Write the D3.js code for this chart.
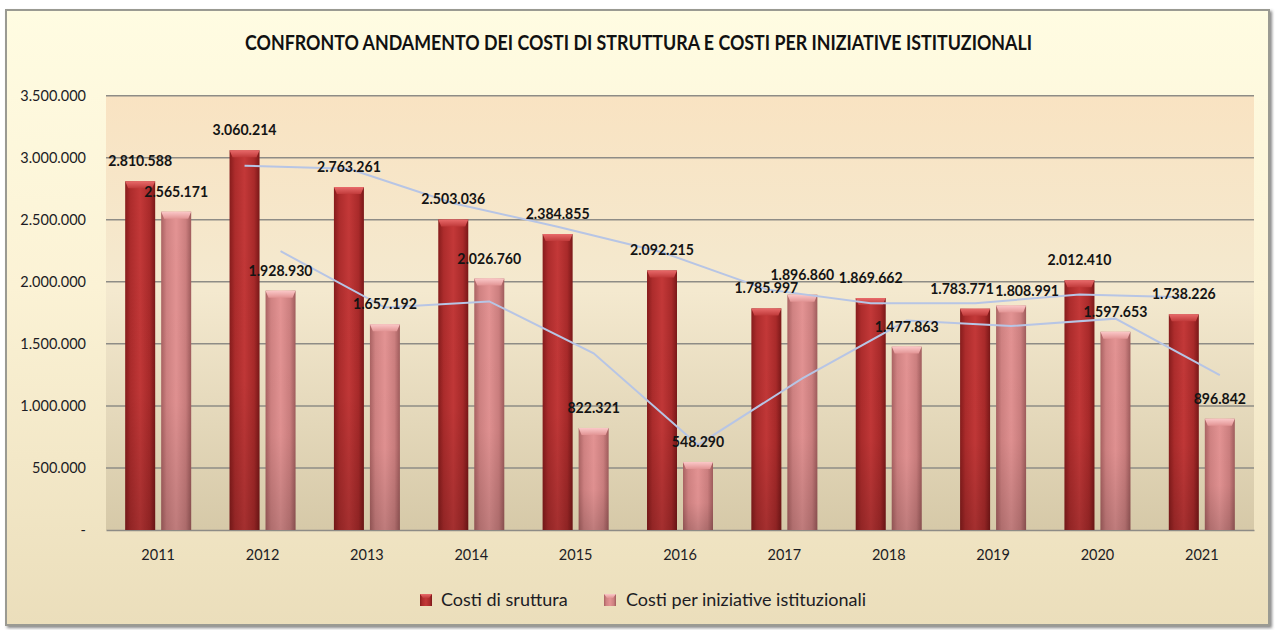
<!DOCTYPE html>
<html><head><meta charset="utf-8">
<script src="https://cdn.jsdelivr.net/npm/d3@7"></script>
<style>
html,body{margin:0;padding:0;background:#fff;}
svg{display:block;}
</style></head>
<body>
<svg id="chart" width="1276" height="630"></svg>
<script>
const years = ["2011","2012","2013","2014","2015","2016","2017","2018","2019","2020","2021"];
const costiStruttura = [2810588,3060214,2763261,2503036,2384855,2092215,1785997,1869662,1783771,2012410,1738226];
const costiIniziative = [2565171,1928930,1657192,2026760,822321,548290,1896860,1477863,1808991,1597653,896842];
// trend lines (moving average, 2 periods), from 2012 on
const trendYears = ["2012","2013","2014","2015","2016","2017","2018","2019","2020","2021"];
const trendStruttura = [2935401,2911738,2633149,2443946,2238535,1939106,1827830,1826717,1898091,1875318];
const trendIniziative = [2247051,1793061,1841976,1424541,685306,1222575,1687362,1643427,1703322,1247248];
const yTicks = [0,500000,1000000,1500000,2000000,2500000,3000000,3500000];
const titleText = "CONFRONTO ANDAMENTO DEI COSTI DI STRUTTURA  E COSTI PER INIZIATIVE ISTITUZIONALI";
const legendLabels = ["Costi di sruttura","Costi per iniziative istituzionali"];

const svg = d3.select("#chart");
const defs = svg.append("defs");
const locale = d3.formatLocale({decimal:",", thousands:".", grouping:[3], currency:["€",""]});
const fmt = locale.format(",.0f");
const FONT = "Lato, 'Liberation Sans', sans-serif";

function lin(id, x1,y1,x2,y2, stops){
  const g = defs.append("linearGradient").attr("id",id)
    .attr("x1",x1).attr("y1",y1).attr("x2",x2).attr("y2",y2);
  stops.forEach(s=>g.append("stop").attr("offset",s[0]).attr("stop-color",s[1]).attr("stop-opacity", s[2]===undefined?1:s[2]));
}
lin("bgOuter",0,0,0,1,[[0,"#fffce2"],[0.45,"#fbf2d5"],[1,"#ebdebb"]]);
lin("bgPlot",0,0,0,1,[[0,"#f9e3c2"],[0.45,"#f4e9cf"],[1,"#d6c9a8"]]);
lin("gDark",0,0,1,0,[[0,"#861c1c"],[0.18,"#ad2c2c"],[0.5,"#c33838"],[0.82,"#a92a2a"],[1,"#7a1818"]]);
lin("gPink",0,0,1,0,[[0,"#a96262"],[0.18,"#d08282"],[0.5,"#e39393"],[0.82,"#cc7f7f"],[1,"#9f5c5c"]]);
lin("gShade",0,0,0,1,[[0,"#000",0],[0.6,"#000",0.02],[1,"#000",0.16]]);
lin("gCapDark",0,0,0,1,[[0,"#e86a6a"],[1,"#c03a3a"]]);
lin("gCapPink",0,0,0,1,[[0,"#fbc8c8"],[1,"#e29494"]]);
const f = defs.append("filter").attr("id","shadow").attr("x","-2%").attr("y","-2%").attr("width","104%").attr("height","106%");
f.append("feDropShadow").attr("dx",2).attr("dy",2).attr("stdDeviation",1.5).attr("flood-color","#555").attr("flood-opacity",0.7);

// frame
svg.append("rect").attr("x",6).attr("y",10).attr("width",1263).attr("height",615)
  .attr("fill","url(#bgOuter)").attr("stroke","#9a9a92").attr("stroke-width",2).attr("filter","url(#shadow)");

const plot = {left:106, right:1254, top:95.7, bottom:530};
const x = d3.scaleBand().domain(years).range([plot.left, plot.right]).padding(0);
const y = d3.scaleLinear().domain([0,3500000]).range([plot.bottom, plot.top]);

svg.append("rect").attr("x",plot.left).attr("y",plot.top).attr("width",plot.right-plot.left)
  .attr("height",plot.bottom-plot.top).attr("fill","url(#bgPlot)");

// gridlines
svg.append("g").selectAll("line").data(yTicks.filter(d=>d>0)).join("line")
  .attr("x1",plot.left).attr("x2",plot.right).attr("y1",d=>y(d)).attr("y2",d=>y(d))
  .attr("stroke","#8e8c86").attr("stroke-width",1.5);

// y axis
const yAxis = d3.axisLeft(y).tickValues(yTicks).tickSize(0).tickPadding(20)
  .tickFormat(d=> d===0 ? "-" : fmt(d));
const gy = svg.append("g").attr("transform",`translate(${plot.left},0)`).call(yAxis);
gy.select(".domain").remove();
gy.selectAll("text").attr("font-family",FONT).attr("font-size",14.5).attr("fill","#1c1c24");

// x axis
const xAxis = d3.axisBottom(x).tickSize(0).tickPadding(20);
const gx = svg.append("g").attr("transform",`translate(0,${plot.bottom})`).call(xAxis);
gx.select(".domain").attr("stroke","#8e8c86").attr("stroke-width",1.5);
gx.selectAll("text").attr("font-family",FONT).attr("font-size",14.5).attr("fill","#1c1c24");

const bw = 30, off = 18;
function drawBars(vals, fill, cap, dx){
  const g = svg.append("g");
  const data = years.map((yr,i)=>({yr, v:vals[i], i}));
  const cx = d=> x(d.yr)+x.bandwidth()/2+dx;
  g.selectAll("rect.b").data(data).join("rect").attr("class","b")
    .attr("x",d=>cx(d)-bw/2).attr("y",d=>y(d.v)).attr("width",bw).attr("height",d=>y(0)-y(d.v)).attr("fill",fill);
  g.selectAll("rect.s").data(data).join("rect").attr("class","s")
    .attr("x",d=>cx(d)-bw/2).attr("y",d=>y(d.v)).attr("width",bw).attr("height",d=>y(0)-y(d.v)).attr("fill","url(#gShade)");
  g.selectAll("path.c").data(data).join("path").attr("class","c")
    .attr("d",d=>{const x0=cx(d)-bw/2, t=y(d.v); return `M${x0},${t}L${x0+bw},${t}L${x0+bw-3},${t+7}L${x0+3},${t+7}Z`;})
    .attr("fill",cap);
  return {data,cx};
}
const b1 = drawBars(costiStruttura,"url(#gDark)","url(#gCapDark)",-off);
const b2 = drawBars(costiIniziative,"url(#gPink)","url(#gCapPink)",off);

// trend lines
const line = d3.line().x(d=>d.x).y(d=>d.y);
const t1 = trendYears.map((yr,i)=>({x:x(yr)+x.bandwidth()/2-off, y:y(trendStruttura[i])}));
const t2 = trendYears.map((yr,i)=>({x:x(yr)+x.bandwidth()/2+off, y:y(trendIniziative[i])}));
[t1,t2].forEach(t=>svg.append("path").attr("d",line(t)).attr("fill","none")
  .attr("stroke","#b7c5e5").attr("stroke-width",2));

// labels (a few nudged apart, as in the original chart)
const nudge1 = {8:[-13,0]};
const nudge2 = {8:[16,5]};
function labels(b, nudge){
  svg.append("g").selectAll("text").data(b.data).join("text")
    .attr("x",d=>b.cx(d)+(nudge[d.i]?nudge[d.i][0]:0))
    .attr("y",d=>y(d.v)-15+(nudge[d.i]?nudge[d.i][1]:0)).attr("text-anchor","middle")
    .attr("font-family",FONT).attr("font-weight","bold").attr("font-size",16)
    .attr("fill","#141414").text(d=>fmt(d.v))
    .each(function(){ const L=this.getComputedTextLength(); d3.select(this).attr("textLength",L*0.88).attr("lengthAdjust","spacingAndGlyphs"); });
}
labels(b1, nudge1); labels(b2, nudge2);

// title
svg.append("text").attr("x",638.5).attr("y",50).attr("text-anchor","middle")
  .attr("font-family",FONT).attr("font-weight","bold").attr("font-size",21)
  .attr("fill","#111").attr("textLength",787).attr("lengthAdjust","spacingAndGlyphs").text(titleText);

// legend
const lg = svg.append("g");
const items = [{t:legendLabels[0], fill:"url(#gDark)", cap:"url(#gCapDark)", x:420, tx:441},
               {t:legendLabels[1], fill:"url(#gPink)", cap:"url(#gCapPink)", x:604, tx:626}];
items.forEach(it=>{
  lg.append("rect").attr("x",it.x).attr("y",594).attr("width",12).attr("height",12).attr("fill",it.fill);
  lg.append("path").attr("d",`M${it.x},594L${it.x+12},594L${it.x+9},598L${it.x+3},598Z`).attr("fill",it.cap);
  lg.append("text").attr("x",it.tx).attr("y",606).attr("font-family",FONT)
    .attr("font-size",18).attr("fill","#1c1c24").text(it.t);
});
</script>
</body></html>
